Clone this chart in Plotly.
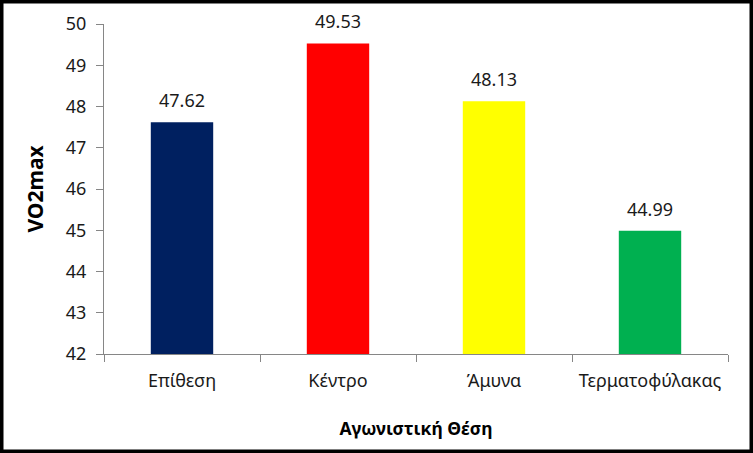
import plotly.graph_objects as go

# Data
positions = ["Επίθεση", "Κέντρο", "Άμυνα", "Τερματοφύλακας"]
vo2max = [47.62, 49.53, 48.13, 44.99]
bar_colors = ["#002060", "#FF0000", "#FFFF00", "#00B050"]
y_ticks = [42, 43, 44, 45, 46, 47, 48, 49, 50]

W, H = 753, 453
L, R, T, B = 104, 25, 24, 99
pw, ph = W - L - R, H - T - B

font_main = "Noto Sans, Open Sans, sans-serif"
axis_grey = "#868686"

fig = go.Figure()
fig.add_trace(go.Bar(
    x=positions, y=vo2max,
    marker=dict(color=bar_colors, line=dict(width=0)),
    width=0.4,
    showlegend=False,
))

# Value labels above bars
for cat, val in zip(positions, vo2max):
    fig.add_annotation(
        x=cat, y=val, text=f"{val:.2f}",
        showarrow=False, yanchor="bottom", yshift=8,
        font=dict(family=font_main, size=18, color="#1a1a1a"),
    )

# Black frame around the whole image
fig.add_shape(
    type="rect", xref="paper", yref="paper",
    x0=-L / pw, x1=(W - L) / pw,
    y0=-B / ph, y1=(H - B) / ph,
    line=dict(color="black", width=7),
    fillcolor="rgba(0,0,0,0)",
)

fig.update_layout(
    width=W, height=H,
    margin=dict(l=L, r=R, t=T, b=B, pad=0),
    paper_bgcolor="white", plot_bgcolor="white",
    font=dict(family=font_main, size=18, color="#1a1a1a"),
    bargap=0.6,
)
fig.update_xaxes(
    showline=True, linecolor=axis_grey, linewidth=1.3,
    ticks="outside", tickson="boundaries", ticklen=7, tickcolor=axis_grey,
    ticklabelstandoff=10,
    tickfont=dict(size=18),
    showgrid=False,
    title=dict(text="<b>Αγωνιστική Θέση</b>", font=dict(size=17.5, color="black"), standoff=31),
)
fig.update_yaxes(
    range=[42, 50], tickvals=y_ticks,
    showline=True, linecolor=axis_grey, linewidth=1.3,
    ticks="outside", ticklen=7, tickcolor=axis_grey,
    ticklabelstandoff=6,
    tickfont=dict(size=18),
    showgrid=False, zeroline=False,
    title=dict(text="<b>VO2max</b>", font=dict(size=21, color="black"), standoff=16),
)

fig.write_html("out.html", config={"displayModeBar": False},
               post_script="document.body.style.margin='0';")
